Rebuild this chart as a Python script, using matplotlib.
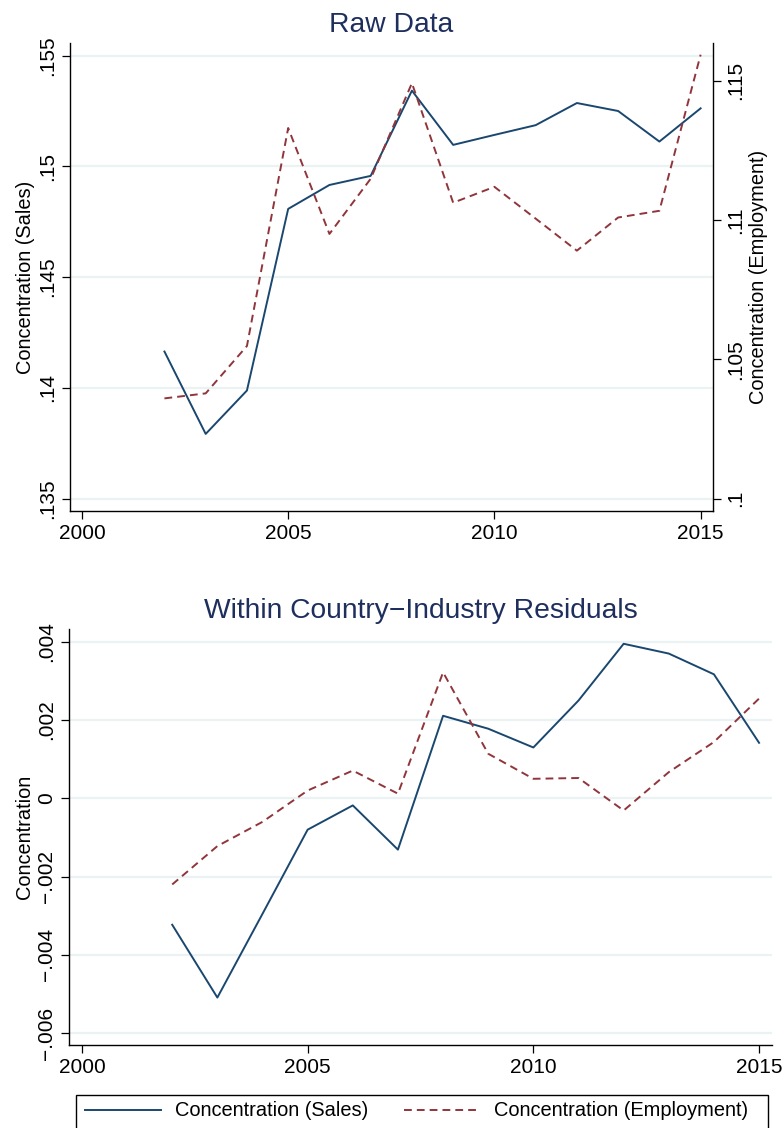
import matplotlib.pyplot as plt
from matplotlib.lines import Line2D
from matplotlib.patches import Rectangle

plt.rcParams['font.family'] = ['Liberation Sans', 'DejaVu Sans']

# data
years = list(range(2002, 2016))
raw_sales = [0.14164, 0.13792, 0.13988, 0.14808, 0.14916, 0.14957, 0.15342,
             0.15097, 0.15142, 0.15186, 0.15286, 0.15250, 0.15112, 0.15262]
raw_emp = [0.10360, 0.10378, 0.10548, 0.11330, 0.10950, 0.11148, 0.11491,
           0.11062, 0.11119, 0.11005, 0.10890, 0.11009, 0.11033, 0.11593]
res_sales = [-0.00323, -0.00509, -0.00295, -0.00080, -0.00018, -0.00131, 0.00211,
             0.00178, 0.00130, 0.00250, 0.00395, 0.00370, 0.00317, 0.00142]
res_emp = [-0.00220, -0.00122, -0.00060, 0.00020, 0.00071, 0.00012, 0.00322,
           0.00114, 0.00050, 0.00052, -0.00031, 0.00067, 0.00144, 0.00255]

xticks = [2000, 2005, 2010, 2015]
sales_ticks = [0.135, 0.14, 0.145, 0.15, 0.155]
sales_labels = ['.135', '.14', '.145', '.15', '.155']
emp_ticks = [0.1, 0.105, 0.11, 0.115]
emp_labels = ['.1', '.105', '.11', '.115']
res_ticks = [-0.006, -0.004, -0.002, 0, 0.002, 0.004]
res_labels = ['\u2212.006', '\u2212.004', '\u2212.002', '0', '.002', '.004']

NAVY = '#1a476f'
MAROON = '#90353b'
GRID = '#eaf2f3'
TITLE = '#1e2f5e'
TICK_FS = 15
LAB_FS = 14.4
TITLE_FS = 20.3
DASH = (0, (4, 2.6))

fig = plt.figure(figsize=(7.84, 11.28), dpi=100)


def style_axis(ax):
    ax.spines['top'].set_visible(False)
    ax.spines['right'].set_visible(False)
    for s in ['left', 'bottom']:
        ax.spines[s].set_linewidth(1.0)
        ax.spines[s].set_color('black')
    ax.tick_params(axis='both', direction='out', length=6, width=0.9,
                   labelsize=TICK_FS, colors='black')
    ax.tick_params(axis='y', labelrotation=90)
    ax.grid(True, axis='y', color=GRID, linewidth=1.6, zorder=0)
    ax.set_axisbelow(True)


# ---- top panel: raw data ----
ax1 = fig.add_axes([70 / 784, 1 - 511 / 1128, 643 / 784, 468 / 1128])
ax1.plot(years, raw_sales, color=NAVY, lw=1.4, zorder=3)
ax1.set_xlim(1999.71, 2015.30)
ax1.set_ylim(0.13444, 0.15557)
ax1.set_xticks(xticks)
ax1.set_yticks(sales_ticks)
ax1.set_yticklabels(sales_labels)
style_axis(ax1)
for lab in ax1.get_yticklabels():
    lab.set_va('center')
ax1.set_ylabel('Concentration (Sales)', fontsize=LAB_FS, labelpad=2)
ax1.set_title('Raw Data', fontsize=TITLE_FS, color=TITLE, pad=8)

ax2 = ax1.twinx()
ax2.plot(years, raw_emp, color=MAROON, lw=1.4, ls=DASH, zorder=3)
ax2.set_ylim(0.09956, 0.11635)
ax2.set_yticks(emp_ticks)
ax2.set_yticklabels(emp_labels)
for s in ['top', 'left', 'bottom']:
    ax2.spines[s].set_visible(False)
ax2.spines['right'].set_linewidth(1.0)
ax2.tick_params(axis='y', direction='out', length=6, width=0.9,
                labelsize=TICK_FS, labelrotation=90)
for lab in ax2.get_yticklabels():
    lab.set_va('center')
ax2.set_ylabel('Concentration (Employment)', fontsize=LAB_FS, labelpad=3)

# ---- bottom panel: residuals ----
ax3 = fig.add_axes([69.3 / 784, 1 - 1045.3 / 1128, 702.4 / 784, 416 / 1128])
ax3.plot(years, res_sales, color=NAVY, lw=1.4, zorder=3)
ax3.plot(years, res_emp, color=MAROON, lw=1.4, ls=DASH, zorder=3)
ax3.set_xlim(1999.72, 2015.28)
ax3.set_ylim(-0.00631, 0.00432)
ax3.set_xticks(xticks)
ax3.set_yticks(res_ticks)
ax3.set_yticklabels(res_labels)
style_axis(ax3)
for lab in ax3.get_yticklabels():
    lab.set_va('center')
ax3.set_ylabel('Concentration', fontsize=LAB_FS, labelpad=2)
ax3.set_title('Within Country\u2212Industry Residuals', fontsize=TITLE_FS,
              color=TITLE, pad=8)

# ---- legend (box drawn separately, runs off the bottom edge) ----
fig.patches.append(Rectangle((76 / 784, -0.02), 692 / 784, 33 / 1128 + 0.02,
                             transform=fig.transFigure, fill=False,
                             edgecolor='black', linewidth=1.0))
handles = [Line2D([], [], color=NAVY, lw=1.4),
           Line2D([], [], color=MAROON, lw=1.4, ls=DASH)]
fig.legend(handles, ['Concentration (Sales)', 'Concentration (Employment)'],
           loc='center left', ncol=2,
           bbox_to_anchor=(85 / 784, 1 - 1111 / 1128),
           fontsize=LAB_FS, frameon=False, handlelength=3.8,
           handletextpad=0.7, columnspacing=1.8, borderpad=0,
           borderaxespad=0)

fig.savefig('out.png', dpi=100, facecolor='white')
